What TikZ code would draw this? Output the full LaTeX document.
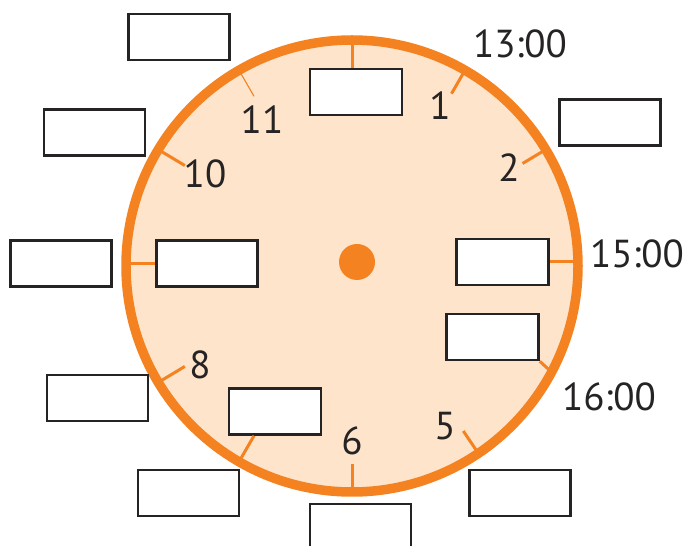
\documentclass[tikz,border=0pt]{standalone}
\usepackage{fontspec}
\setsansfont{PT Sans}
\usepackage{tikz}
\usetikzlibrary{calc, positioning}
\definecolor{ClockOrange}{HTML}{F58220}
\definecolor{ClockFace}{HTML}{FEE4CA}
\definecolor{BoxLine}{HTML}{262324}

\tikzset{
    box/.style={draw=BoxLine, line width=2.6pt, fill=white, inner sep=0pt,
        minimum width=101pt, minimum height=46pt},
    smallbox/.style={box, minimum width=92pt},
    tick/.style={draw=ClockOrange, line width=3pt},
    thintick/.style={draw=ClockOrange, line width=1.1pt},
    hour/.style={font=\sffamily\fontsize{39}{40}\selectfont, text=BoxLine, inner sep=0pt}
}

\begin{document}
\begin{tikzpicture}[x=1pt, y=1pt]
    \clip (0,0) rectangle (688,546);
    \coordinate (C) at (352,280);

    % Clock face and rim
    \draw[line width=9.5pt, ClockOrange, fill=ClockFace] (C) circle (226pt);
    \fill[ClockOrange] (357,284) circle (18pt);

    % Points on the rim
    \coordinate (r12) at ($(C)+(90:226pt)$);
    \coordinate (r3) at ($(C)+(0:226pt)$);
    \coordinate (r4) at ($(C)+(-28:226pt)$);
    \coordinate (r7) at ($(C)+(240:226pt)$);
    \coordinate (r9) at ($(C)+(180:226pt)$);

    % Hour ticks
    \draw[thintick] ($(C)+(120:196pt)$) -- ($(C)+(120:226pt)$);
    \draw[tick] ($(C)+(60:199pt)$) -- ($(C)+(60:226pt)$);
    \draw[tick] ($(C)+(31:199pt)$) -- ($(C)+(31:226pt)$);
    \draw[tick] ($(C)+(149:195pt)$) -- ($(C)+(149:226pt)$);
    \draw[tick] ($(C)+(211:195pt)$) -- ($(C)+(211:226pt)$);
    \draw[tick] ($(C)+(270:198pt)$) -- ($(C)+(270:226pt)$);
    \draw[tick] ($(C)+(304:199pt)$) -- ($(C)+(304:226pt)$);

    % Hour numbers
    \node[hour] (n11) at (262,426) {11};
    \node[hour] (n1) at (440,440) {1};
    \node[hour] (n2) at (509,378) {2};
    \node[hour] (n10) at (205,372) {10};
    \node[hour] (n8) at (200,181) {8};
    \node[hour] (n6) at (352,105) {6};
    \node[hour] (n5) at (445,120) {5};
    \node[hour] (t13) at (520,502) {13:00};
    \node[hour] (t15) at (637,292) {15:00};
    \node[hour] (t16) at (609,149) {16:00};

    % Boxes inside the face
    \node[smallbox] (b12) at (356,454) {};
    \node[smallbox] (b3) at (502.5,284) {};
    \node[box] (b9) at (207,282.5) {};
    \node[smallbox] (b7) at (275,134.5) {};
    \node[smallbox] (b4) at (492.5,209) {};

    % Boxes outside the face
    \node[box] (b11out) at (179,509) {};
    \node[box] (b2out) at (610,423.5) {};
    \node[box] (b10out) at (94.5,413.5) {};
    \node[box] (b9out) at (61,282.5) {};
    \node[box] (b8out) at (97.5,148) {};
    \node[box] (b7out) at (188.5,53) {};
    \node[box] (b6out) at (360.5,19) {};
    \node[box] (b5out) at (520,53) {};

    % Ticks joined to the boxes
    \draw[tick] (r12) -- (r12 |- b12.north);
    \draw[tick] (b3.east) -- (b3.east -| r3);
    \draw[tick] (r9) -- (r9 |- b9.west) -- (b9.west);
    \draw[tick] (b4.south east) -- (r4);
    \draw[tick] ([xshift=-21pt]b7.south) -- (r7);
\end{tikzpicture}
\end{document}
